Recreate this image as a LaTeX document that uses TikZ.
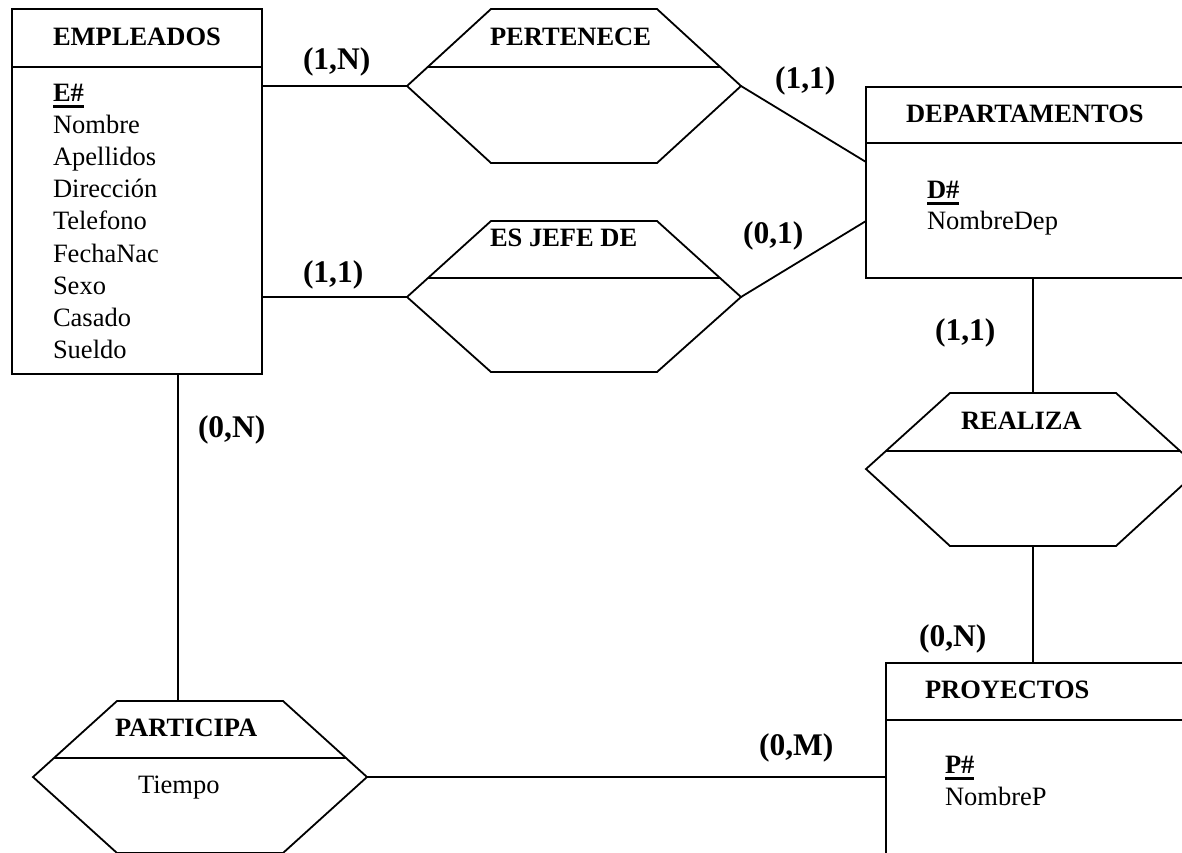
\documentclass[tikz,border=0pt]{standalone}
\usepackage{fontspec}
\setmainfont{Liberation Serif}

% bold key attribute with a thick underline
\newcommand\keyattr[1]{\setbox0\hbox{\bfseries #1}\rlap{\rule[-6.5pt]{\wd0}{2.2pt}}\box0}

% relationship hexagon: name, left vertex x, vertex y, top y, bottom y, separator y
\newcommand\relshape[6]{%
  \coordinate (#1-w) at (#2,#3);
  \coordinate (#1-e) at ({#2+334},#3);
  \coordinate (#1-n) at ({#2+167},#4);
  \coordinate (#1-s) at ({#2+167},#5);
  \draw[linejoin=miter] (#1-w) -- ({#2+84},#4) -- ({#2+250},#4) -- (#1-e)
        -- ({#2+250},#5) -- ({#2+84},#5) -- cycle;
  \draw ({#2+84*(#3-#6)/(#3-#4)},#6) -- ({#2+334-84*(#3-#6)/(#3-#4)},#6);
}

\begin{document}
\begin{tikzpicture}[x=1pt, y=-1pt, line width=1.8pt,
  linejoin/.style={line join=#1},
  every node/.style={font=\fontsize{26.5}{32.2}\selectfont, inner sep=0pt, outer sep=0pt},
  txt/.style={anchor=base west},
  heading/.style={anchor=base west, font=\fontsize{26.5}{32.2}\selectfont\bfseries},
  card/.style={anchor=base west, font=\fontsize{31.5}{36}\selectfont\bfseries},
  entitybox/.style={draw, anchor=north west, minimum width=#1}]
\useasboundingbox (0,0) rectangle (1182,852);

% entity boxes
\node[entitybox=250pt, minimum height=365pt] (emp) at (12,9) {};
\node[entitybox=340pt, minimum height=191pt] (dept) at (866,87) {};
\node[entitybox=330pt, minimum height=230pt] (proy) at (886,663) {};
\draw (emp.west |- 0,67) -- (emp.east |- 0,67);
\draw (dept.west |- 0,143) -- (dept.east |- 0,143);
\draw (proy.west |- 0,720) -- (proy.east |- 0,720);

% relationships
\relshape{per}{407}{86}{9}{163}{67}
\relshape{jefe}{407}{297}{221}{372}{278}
\relshape{real}{866}{469}{393}{546}{451}
\relshape{part}{33}{777}{701}{853}{758}

% connection points on the entity borders
\coordinate (dept-a) at (866,162);
\coordinate (dept-b) at (866,221);
\coordinate (emp-s) at (178,374);

% connectors
\draw (per-w) -- (per-w -| emp.east);
\draw (jefe-w) -- (jefe-w -| emp.east);
\draw (per-e) -- (dept-a);
\draw (jefe-e) -- (dept-b);
\draw (real-n) -- (real-n |- dept.south);
\draw (real-s) -- (real-s |- proy.north);
\draw (emp-s) -- (emp-s |- part-n);
\draw (part-e) -- (part-e -| proy.west);

% EMPLEADOS
\node[heading] (emp-t) at (53,45) {EMPLEADOS};
\node[txt] (emp-k) at (53,101) {\keyattr{E\#}};
\foreach [count=\i] \a in {Nombre, Apellidos, Dirección, Telefono, FechaNac, Sexo, Casado, Sueldo}
  \node[txt] (emp-a\i) at (53,{101+32.2*\i}) {\a};

% DEPARTAMENTOS
\node[heading] (dept-t) at (906,122) {DEPARTAMENTOS};
\node[txt] (dept-k) at (927,198) {\keyattr{D\#}};
\node[txt] (dept-a1) at (927,229) {NombreDep};

% PROYECTOS
\node[heading] (proy-t) at (925,698) {PROYECTOS};
\node[txt] (proy-k) at (945,773) {\keyattr{P\#}};
\node[txt] (proy-a1) at (945,805) {NombreP};

% relationship names
\node[heading] (per-t) at (490,45) {PERTENECE};
\node[heading] (jefe-t) at (490,246) {ES JEFE DE};
\node[heading] (real-t) at (961,429) {REALIZA};
\node[heading] (part-t) at (115,736) {PARTICIPA};
\node[txt] (part-a1) at (138,793) {Tiempo};

% cardinalities
\node[card] (c1) at (303,69) {(1,N)};
\node[card] (c2) at (775,88) {(1,1)};
\node[card] (c3) at (303,282) {(1,1)};
\node[card] (c4) at (743,243) {(0,1)};
\node[card] (c5) at (935,340) {(1,1)};
\node[card] (c6) at (919,646) {(0,N)};
\node[card] (c7) at (198,437) {(0,N)};
\node[card] (c8) at (759,755) {(0,M)};
\end{tikzpicture}
\end{document}
